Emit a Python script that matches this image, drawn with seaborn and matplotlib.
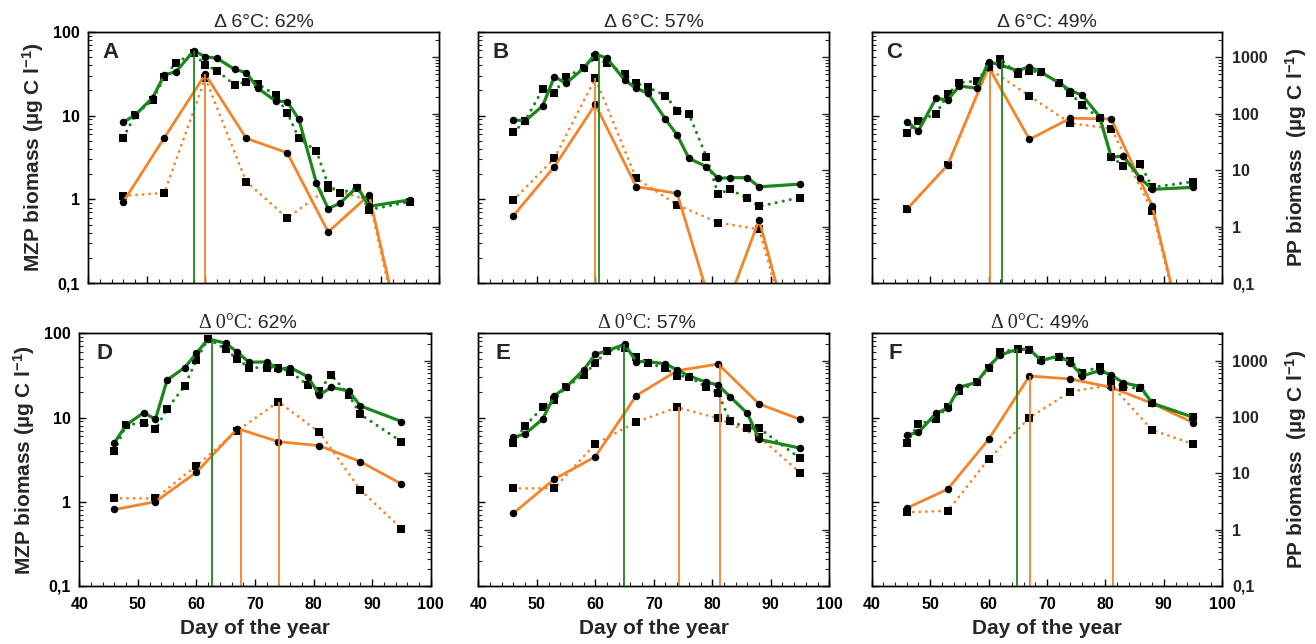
import numpy as np
import pandas as pd
import matplotlib
matplotlib.use("Agg")
import matplotlib.pyplot as plt
import seaborn as sns
from matplotlib.ticker import FixedLocator, LogLocator, MultipleLocator, NullFormatter

# ---------------- data ----------------
days = [46, 48, 51, 53, 55, 58, 60, 62, 65, 67, 69, 72, 74, 76, 79, 81, 83, 86, 88, 95]
weeks = [46, 53, 60, 67, 74, 81, 88, 95]

panel_letters = ["A", "B", "C", "D", "E", "F"]
title_temp = ["Δ 6°C", "Δ 6°C", "Δ 6°C", "Δ 0°C", "Δ 0°C", "Δ 0°C"]
title_pct = ["62%", "57%", "49%", "62%", "57%", "49%"]

# PP biomass (green, right axis)
pp_solid_A = [71, 95, 193, 487, 557, 1294, 1028, 960, 613, 535, 283, 169, 164, 80, 5.9, 2.1, 2.6, 5.1, 2.3, 3.0]
pp_dotted_A = [38, 95, 176, 443, 805, 1178, 731, 581, 324, 371, 337, 215, 105, 37, 22, 5.5, 4.0, 4.8, 2.0, 2.8]
pp_solid_B = [78, 75, 138, 455, 347, 639, 1146, 960, 397, 283, 231, 80, 42, 16.3, 11.6, 7.2, 7.4, 7.4, 5.1, 5.7]
pp_dotted_B = [47, 75, 271, 237, 455, 639, 1000, 783, 507, 347, 295, 210, 114, 98, 17.5, 3.8, 4.6, 3.2, 2.3, 3.3]
pp_solid_C = [73, 50, 188, 176, 311, 283, 838, 731, 581, 684, 543, 356, 257, 215, 89, 17, 18, 7.2, 4.6, 5.0]
pp_dotted_C = [46, 76, 99, 221, 356, 381, 684, 922, 507, 573, 543, 356, 231, 143, 83, 17.5, 12.1, 12.9, 5.0, 6.3]
pp_solid_D = [35, 72, 119, 91, 454, 751, 1349, 2425, 2032, 1406, 934, 948, 702, 751, 520, 246, 336, 289, 157, 83]
pp_dotted_D = [25, 72, 79, 60, 139, 355, 1028, 2425, 1589, 1056, 751, 751, 751, 638, 370, 293, 557, 246, 111, 36.5]
pp_solid_E = [43.5, 50, 92, 236, 336, 682, 1295, 1486, 1950, 960, 960, 873, 682, 534, 413, 370, 230, 116, 40, 28]
pp_dotted_E = [35, 69, 148, 200, 336, 557, 897, 1486, 1656, 1146, 897, 731, 534, 520, 336, 263, 86, 63, 63, 18.5]
pp_solid_F = [48, 53, 116, 143, 336, 413, 782, 1262, 1589, 1589, 1000, 1211, 921, 534, 664, 557, 407, 345, 175, 99]
pp_dotted_F = [35, 75, 91, 152, 293, 413, 731, 1445, 1589, 1545, 1028, 1146, 1000, 612, 782, 454, 336, 323, 175, 99]

# MZP biomass (orange, left axis), weekly
mzp_solid_A = [0.94, 5.45, 31, 5.35, 3.6, 0.41, 1.13, 0.008]
mzp_dotted_A = [1.10, 1.20, 28, 1.63, 0.60, 1.36, 0.98, 0.007]
mzp_solid_B = [0.64, 2.46, 13.6, 1.42, 1.18, 0.028, 0.57, 0.0086]
mzp_dotted_B = [0.98, 3.09, 27.8, 1.78, 0.86, 0.53, 0.44, 0.008]
mzp_solid_C = [0.76, 2.57, 38, 5.2, 9.3, 9.1, 0.84, 0.008]
mzp_dotted_C = [0.76, 2.57, 36.5, 17.1, 8.1, 7.0, 0.73, 0.008]
mzp_solid_D = [0.81, 1.0, 2.24, 7.4, 5.17, 4.63, 2.99, 1.63]
mzp_dotted_D = [1.10, 1.10, 2.68, 6.98, 15.4, 6.67, 1.38, 0.48]
mzp_solid_E = [0.73, 1.86, 3.43, 18.2, 36, 43.2, 14.5, 9.5]
mzp_dotted_E = [1.44, 1.45, 4.85, 8.85, 13.2, 9.8, 5.9, 2.22]
mzp_solid_F = [0.84, 1.41, 5.5, 31.1, 28.7, 22.8, 14.7, 8.7]
mzp_dotted_F = [0.75, 0.78, 3.19, 9.96, 20.3, 24.3, 7.1, 4.85]

# peak markers (vertical lines): day and height
pp_peak_day = [58.1, 60.6, 62.3, 62.65, 64.9, 64.9]
pp_peak_val = [1294, 1146, 922, 2425, 1950, 1589]
mzp_peak_day = [[60.0], [60.0], [60.2], [67.55, 74.15], [74.35, 81.4], [67.1, 81.35]]
mzp_peak_val = [[31], [27.8], [38], [7.4, 15.4], [13.2, 43.2], [31.1, 24.3]]

pp_solid = [pp_solid_A, pp_solid_B, pp_solid_C, pp_solid_D, pp_solid_E, pp_solid_F]
pp_dotted = [pp_dotted_A, pp_dotted_B, pp_dotted_C, pp_dotted_D, pp_dotted_E, pp_dotted_F]
mzp_solid = [mzp_solid_A, mzp_solid_B, mzp_solid_C, mzp_solid_D, mzp_solid_E, mzp_solid_F]
mzp_dotted = [mzp_dotted_A, mzp_dotted_B, mzp_dotted_C, mzp_dotted_D, mzp_dotted_E, mzp_dotted_F]

left_ticks = [0.1, 1, 10, 100]
left_ticklabels = ["0,1", "1", "10", "100"]
right_ticks = [0.1, 1, 10, 100, 1000]
right_ticklabels = ["0,1", "1", "10", "100", "1000"]
x_ticks = [40, 50, 60, 70, 80, 90, 100]

# ---------------- style ----------------
sns.set_theme(style="ticks")
plt.rcParams["font.family"] = ["Liberation Sans", "DejaVu Sans"]
plt.rcParams["mathtext.fontset"] = "custom"
plt.rcParams["mathtext.rm"] = "Liberation Sans"
plt.rcParams["mathtext.bf"] = "Liberation Sans:bold"
plt.rcParams["mathtext.it"] = "Liberation Sans:italic"

GREEN = "#1b861b"
ORANGE = "#f5832a"
DOT = (0, (0.05, 2.3))

W, H = 1316, 644
fig = plt.figure(figsize=(W / 100, H / 100), dpi=100)
fig.patch.set_facecolor("white")

boxes = [
    (88.3, 439.3, 31.7, 283.3),
    (478.3, 829.3, 31.7, 283.3),
    (871.7, 1222.3, 31.7, 283.3),
    (79.3, 430.7, 333.3, 586.0),
    (478.3, 829.3, 333.3, 586.0),
    (871.7, 1222.3, 333.3, 586.0),
]
right_top = [2840, 2840, 2840, 3050, 3050, 3050]

for i, (x0, x1, y0, y1) in enumerate(boxes):
    ax = fig.add_axes([x0 / W, 1 - y1 / H, (x1 - x0) / W, (y1 - y0) / H])
    ax2 = ax.twinx()
    row_bottom = i >= 3
    aw = x1 - x0

    # orange (MZP) on left axis
    sns.lineplot(x=weeks, y=mzp_dotted[i], ax=ax, color=ORANGE, linestyle=DOT,
                 linewidth=2.0, dash_capstyle="round", marker="s", markersize=5.4,
                 markerfacecolor="black", markeredgecolor="black", markeredgewidth=0,
                 errorbar=None, sort=False)
    sns.lineplot(x=weeks, y=mzp_solid[i], ax=ax, color=ORANGE, linewidth=2.0,
                 marker="o", markersize=5.4, markerfacecolor="black",
                 markeredgecolor="black", markeredgewidth=0, errorbar=None, sort=False)
    ax.vlines(mzp_peak_day[i], 0.1, mzp_peak_val[i], color=ORANGE, linewidth=1.3)

    # green (PP) on right axis
    sns.lineplot(x=days, y=pp_dotted[i], ax=ax2, color=GREEN, linestyle=DOT,
                 linewidth=2.2, dash_capstyle="round", marker="s", markersize=5.4,
                 markerfacecolor="black", markeredgecolor="black", markeredgewidth=0,
                 errorbar=None, sort=False)
    sns.lineplot(x=days, y=pp_solid[i], ax=ax2, color=GREEN, linewidth=2.3,
                 marker="o", markersize=5.4, markerfacecolor="black",
                 markeredgecolor="black", markeredgewidth=0, errorbar=None, sort=False)
    ax2.vlines([pp_peak_day[i]], 0.1, [pp_peak_val[i]], color=GREEN, linewidth=1.3)

    # scales
    for a in (ax, ax2):
        a.set_yscale("log")
        a.set_xlim(40, 100)
    ax.set_ylim(0.1, 100)
    ax2.set_ylim(0.1, right_top[i])

    # x ticks
    ax.xaxis.set_major_locator(FixedLocator(x_ticks))
    ax.xaxis.set_minor_locator(MultipleLocator(2))
    if row_bottom:
        ax.set_xticklabels([str(t) for t in x_ticks], fontweight="bold")
        ax.set_xlabel("Day of the year", fontsize=15, fontweight="bold", labelpad=5)
    else:
        ax.set_xticklabels([])
        ax.set_xlabel("")

    # left y ticks
    ax.yaxis.set_major_locator(FixedLocator(left_ticks))
    ax.yaxis.set_minor_locator(LogLocator(base=10, subs=np.arange(2, 10), numticks=30))
    ax.yaxis.set_minor_formatter(NullFormatter())
    if i in (0, 3):
        ax.set_yticklabels(left_ticklabels, fontweight="bold")
        ax.set_ylabel(r"MZP biomass (µg C l$^{\mathbf{-1}}$)", fontsize=15, fontweight="bold")
        ax.yaxis.set_label_coords((24 - 79.3) / 351.4, 0.5)
        ax.yaxis.label.set_va("center")
        ax.yaxis.label.set_ha("center")
    else:
        ax.set_yticklabels([])
        ax.set_ylabel("")

    # right y ticks
    ax2.yaxis.set_major_locator(FixedLocator(right_ticks))
    ax2.yaxis.set_minor_locator(LogLocator(base=10, subs=np.arange(2, 10), numticks=30))
    ax2.yaxis.set_minor_formatter(NullFormatter())
    if i in (2, 5):
        ax2.set_yticklabels(right_ticklabels, fontweight="bold")
        ax2.set_ylabel(r"PP biomass  (µg C l$^{\mathbf{-1}}$)", fontsize=15, fontweight="bold",
                       rotation=90)
        ax2.yaxis.set_label_coords((1296 - x0) / aw, 0.5)
        ax2.yaxis.label.set_va("center")
        ax2.yaxis.label.set_ha("center")
    else:
        ax2.set_yticklabels([])
        ax2.set_ylabel("")

    ax.tick_params(axis="both", which="major", direction="in", length=5, width=1.0,
                   labelsize=11.5, pad=6, colors="black")
    ax.tick_params(axis="both", which="minor", direction="in", length=3, width=0.8)
    ax.tick_params(axis="x", which="major", pad=8)
    ax2.tick_params(axis="y", which="major", direction="in", length=5, width=1.0,
                    labelsize=11.5, pad=7)
    ax2.tick_params(axis="y", which="minor", direction="in", length=3, width=0.8)

    for a in (ax, ax2):
        for s in a.spines.values():
            s.set_linewidth(1.0)
            s.set_color("black")
            s.set_visible(True)
    ax.grid(False)
    ax2.grid(False)

    # panel letter
    lx = (14 if not row_bottom else 17) / aw
    ax.text(lx, 1 - 26 / (y1 - y0), panel_letters[i], transform=ax.transAxes,
            ha="left", va="baseline", fontsize=16, fontweight="bold")

    # title
    ty = 1 + 5 / (y1 - y0)
    if not row_bottom:
        ax.text(0.5, ty, f"{title_temp[i]}: {title_pct[i]}", transform=ax.transAxes,
                ha="center", va="baseline", fontsize=14, family=["Liberation Sans", "DejaVu Sans"])
    else:
        ax.text(0.478, ty, title_temp[i], transform=ax.transAxes, ha="right", va="baseline",
                fontsize=14.5, family=["Liberation Serif", "DejaVu Serif"])
        ax.text(0.478, ty, f": {title_pct[i]}", transform=ax.transAxes, ha="left",
                va="baseline", fontsize=14, family=["Liberation Sans", "DejaVu Sans"])

fig.savefig("out.png", dpi=100, facecolor="white")
